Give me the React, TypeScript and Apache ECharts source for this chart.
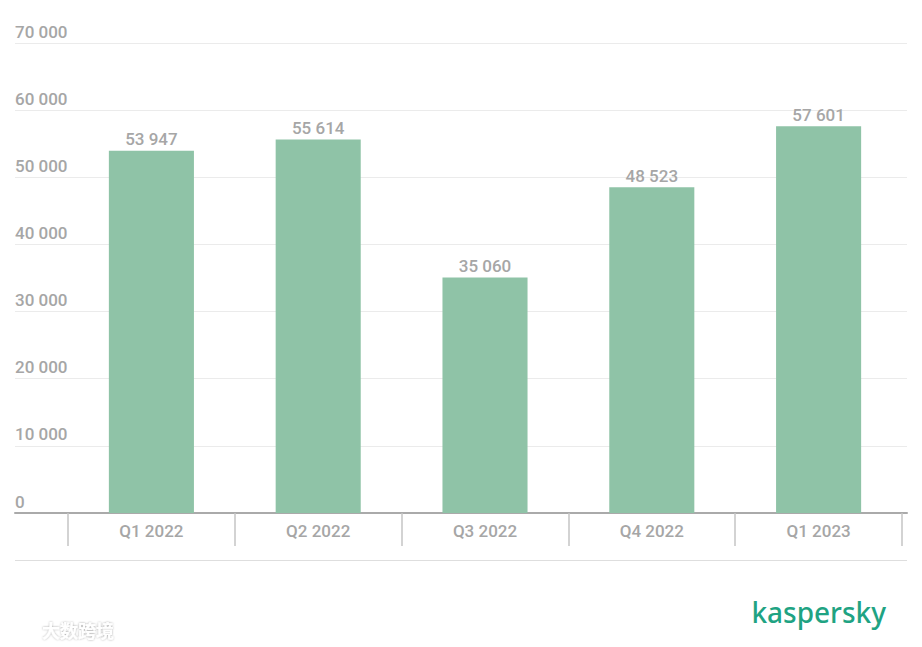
import React, { useEffect, useRef } from "react";
import * as echarts from "echarts";

const categories = ["Q1 2022", "Q2 2022", "Q3 2022", "Q4 2022", "Q1 2023"];
const values = [53947, 55614, 35060, 48523, 57601];
const yMin = 0;
const yMax = 70000;
const yInterval = 10000;

const fmt = (v: number) => String(v).replace(/\B(?=(\d{3})+(?!\d))/g, " ");

export default function App() {
  const ref = useRef<HTMLDivElement>(null);
  useEffect(() => {
    if (!ref.current) return;
    const chart = echarts.init(ref.current, undefined, { renderer: "svg" });
    const gray = "#a6a6a6";
    const font = "Roboto";
    chart.setOption({
      animation: false,
      backgroundColor: "#ffffff",
      grid: [
        { left: 15, right: 15, top: 43, bottom: 134 },
        { left: 68, right: 20, top: 43, bottom: 134 },
      ],
      xAxis: [
        {
          type: "value",
          gridIndex: 0,
          min: 0,
          max: 1,
          show: true,
          position: "bottom",
          axisLine: { show: true, onZero: false, lineStyle: { color: "#aaaaaa", width: 2 } },
          axisTick: { show: false },
          axisLabel: { show: false },
          splitLine: { show: false },
        },
        {
          type: "category",
          gridIndex: 1,
          data: categories,
          axisLine: { show: false },
          axisTick: { show: true, length: 33, lineStyle: { color: "#c4c4c4", width: 1.5 } },
          axisLabel: {
            color: gray,
            fontFamily: font,
            fontSize: 17,
            fontWeight: 500,
            margin: 9,
          },
        },
      ],
      yAxis: [
        {
          type: "value",
          gridIndex: 0,
          min: yMin,
          max: yMax,
          interval: yInterval,
          axisLine: { show: false },
          axisTick: { show: false },
          splitLine: { show: true, lineStyle: { color: "#ebebeb", width: 1 } },
          axisLabel: {
            inside: true,
            margin: 0,
            align: "left",
            verticalAlign: "bottom",
            padding: [0, 0, 3, 0],
            color: gray,
            fontFamily: font,
            fontSize: 17,
            fontWeight: 500,
            formatter: (v: number) => fmt(v),
          },
        },
        {
          type: "value",
          gridIndex: 1,
          min: yMin,
          max: yMax,
          interval: yInterval,
          show: false,
          splitLine: { show: false },
        },
      ],
      series: [
        {
          type: "bar",
          xAxisIndex: 1,
          yAxisIndex: 1,
          data: values,
          barWidth: "51%",
          itemStyle: { color: "#8fc3a7" },
          label: {
            show: true,
            position: "top",
            distance: 3,
            color: gray,
            fontFamily: font,
            fontSize: 17,
            fontWeight: 500,
            formatter: (p: any) => fmt(p.value),
          },
        },
      ],
      graphic: [
        {
          type: "line",
          shape: { x1: 15, y1: 560.5, x2: 907, y2: 560.5 },
          style: { stroke: "#dedede", lineWidth: 1 },
        },
        {
          type: "text",
          x: 886,
          y: 612,
          style: {
            text: "kaspersky",
            fill: "#1fa383",
            font: "500 28px 'Noto Sans'",
            align: "right",
            verticalAlign: "middle",
          },
        },
        {
          type: "text",
          x: 42,
          y: 630,
          style: {
            text: "大数跨境",
            fill: "#ffffff",
            font: "bold 18px 'Noto Sans CJK SC'",
            textShadowColor: "rgba(0,0,0,0.35)",
            textShadowBlur: 2,
            align: "left",
            verticalAlign: "middle",
          },
        },
      ],
    });
    return () => chart.dispose();
  }, []);
  return <div ref={ref} style={{ width: 922, height: 647, position: "absolute", left: 0, top: 0 }} />;
}
